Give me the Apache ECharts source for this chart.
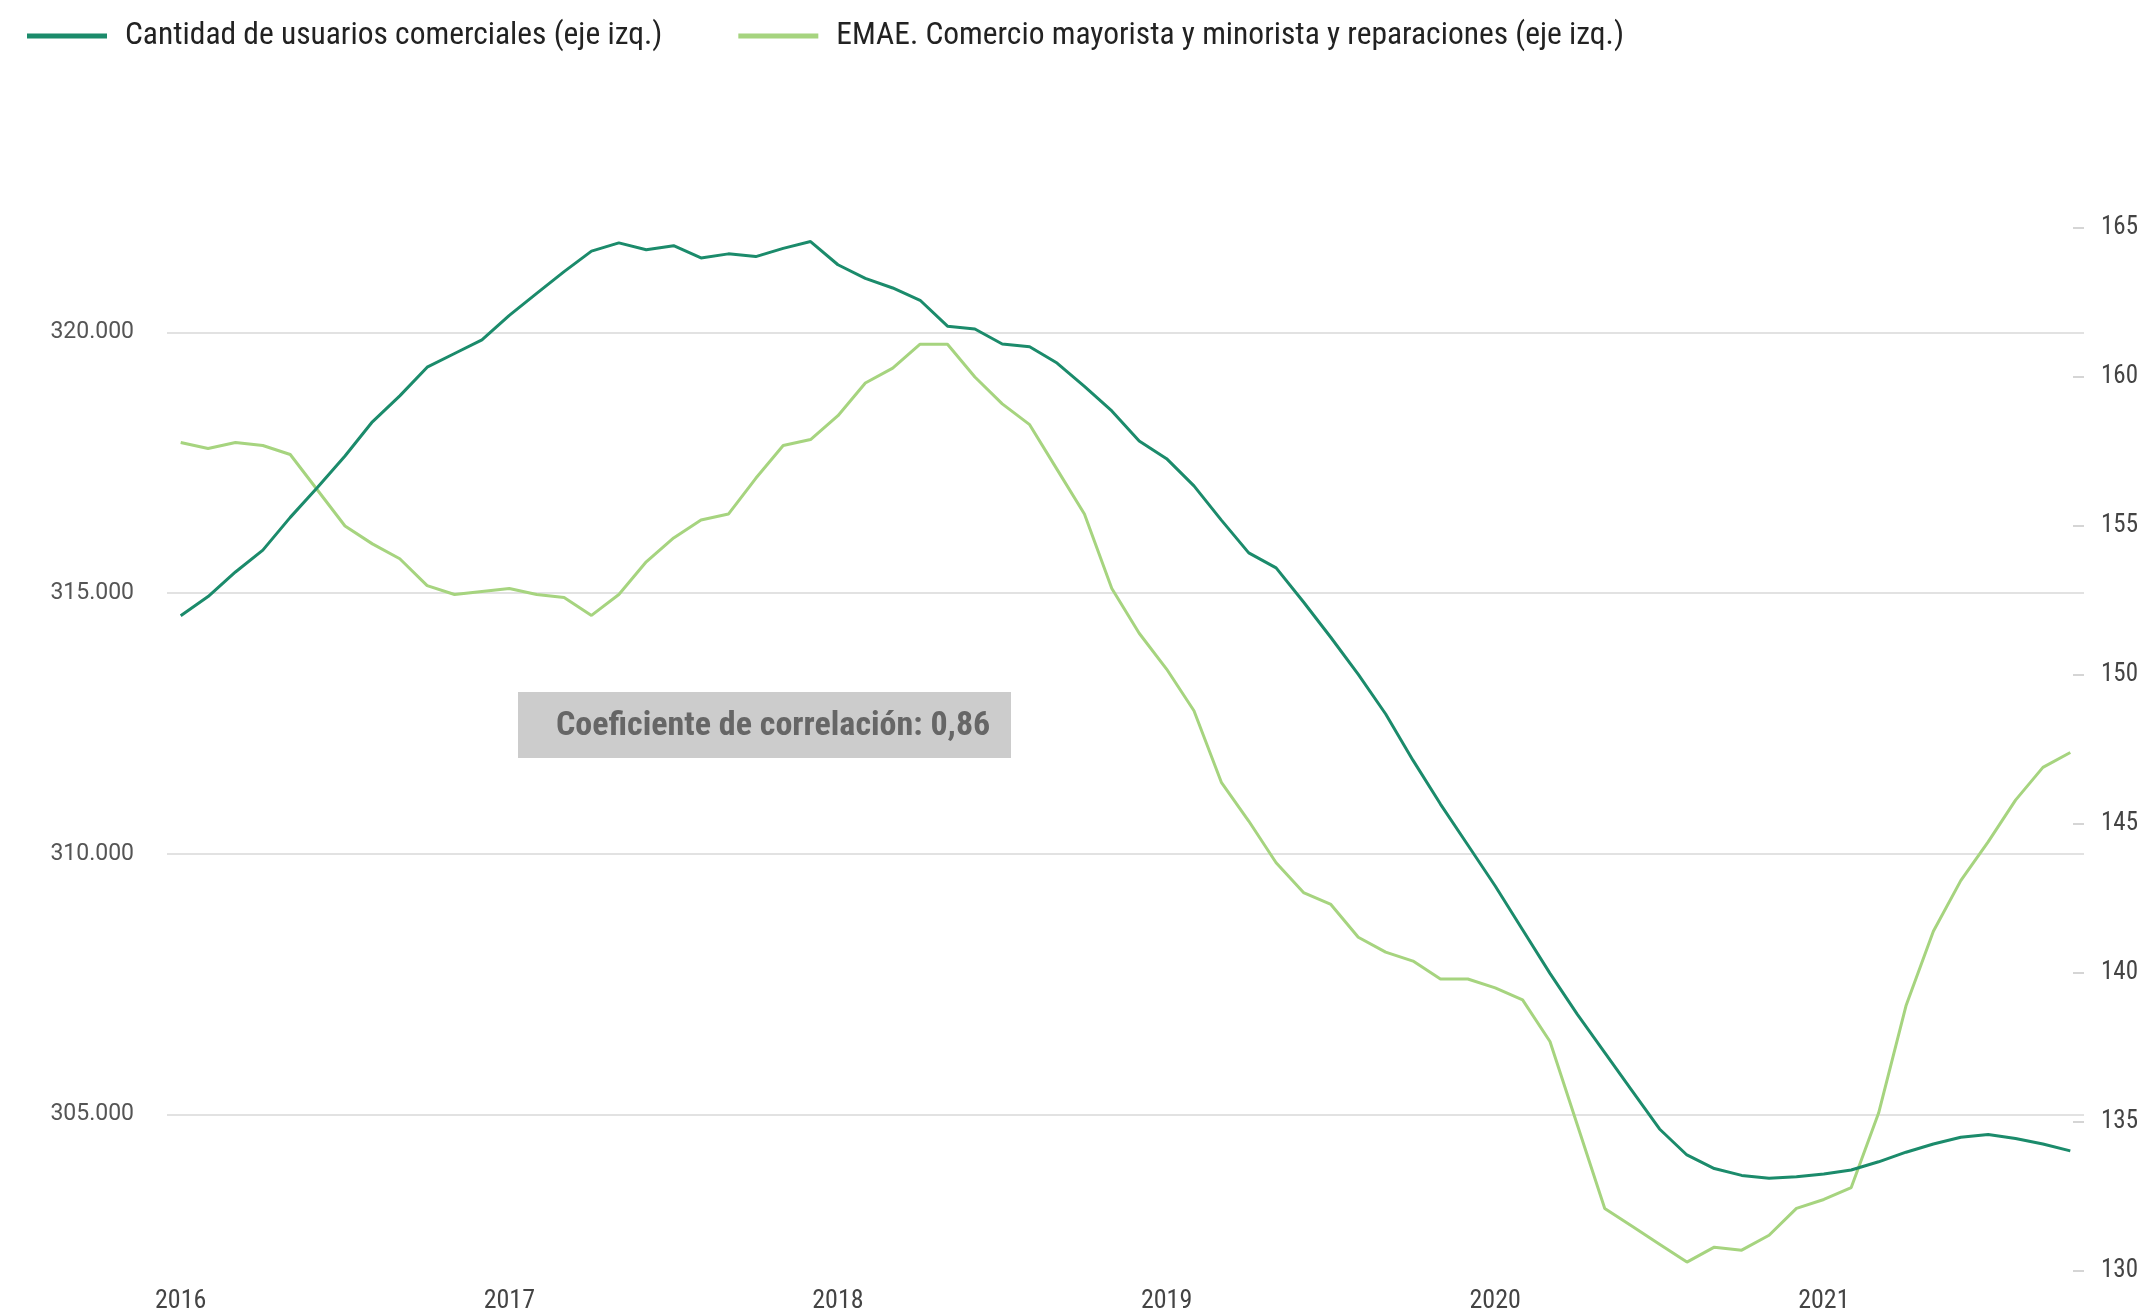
<!DOCTYPE html>
<html><head><meta charset="utf-8">
<script src="https://cdn.jsdelivr.net/npm/echarts@6/dist/echarts.min.js"></script>
<style>html,body{margin:0;padding:0;background:#fff}#c{width:2153px;height:1314px}</style>
</head><body><div id="c"></div>
<script>
const years = ['2016','2017','2018','2019','2020','2021'];
const monthCodes = ['01','02','03','04','05','06','07','08','09','10','11','12'];
const categories = [];
years.forEach(y => monthCodes.forEach(m => categories.push(y + '-' + m)));
categories.length = 70; // Jan 2016 .. Oct 2021

const usuarios = [
  314566,314933,315404,315823,316451,317027,317629,318284,318781,319331,319593,319855,
  320326,320745,321164,321556,321714,321583,321661,321426,321504,321452,321609,321740,
  321295,321033,320850,320614,320117,320064,319776,319724,319410,318965,318493,317917,
  317577,317054,316399,315771,315483,314828,314148,313441,312681,311791,310954,310168,
  309383,308545,307707,306922,306189,305456,304723,304225,303964,303833,303780,303806,
  303859,303937,304094,304278,304435,304566,304618,304539,304435,304304
];
const emae = [
  157.8,157.6,157.8,157.7,157.4,156.2,155.0,154.4,153.9,153.0,152.7,152.8,
  152.9,152.7,152.6,152.0,152.7,153.8,154.6,155.2,155.4,156.6,157.7,157.9,
  158.7,159.8,160.3,161.1,161.1,160.0,159.1,158.4,156.9,155.4,152.9,151.4,
  150.2,148.8,146.4,145.1,143.7,142.7,142.3,141.2,140.7,140.4,139.8,139.8,
  139.5,139.1,137.7,134.9,132.1,131.5,130.9,130.3,130.8,130.7,131.2,132.1,
  132.4,132.8,135.3,138.9,141.4,143.1,144.4,145.8,146.9,147.4
];
const leftTicks = [305000, 310000, 315000, 320000];
const seriesNames = ['Cantidad de usuarios comerciales (eje izq.)', 'EMAE. Comercio mayorista y minorista y reparaciones (eje izq.)'];
const annotationText = 'Coeficiente de correlación: 0,86';

const condensed = '"Roboto Condensed", "Liberation Sans Narrow", "DejaVu Sans Condensed", sans-serif';
const DARK = '#1b8b6b', LIGHT = '#a6d47f';

const chart = echarts.init(document.getElementById('c'));
chart.setOption({
  animation: false,
  backgroundColor: '#fff',
  legend: {
    left: 27, top: 20, padding: 0,
    itemWidth: 80, itemHeight: 5, itemGap: 76,
    icon: 'rect',
    textStyle: { fontFamily: condensed, fontSize: 31.5, color: '#222', padding: [0, 0, 0, 13] },
    data: seriesNames
  },
  grid: { left: 167, right: 69, top: 228, bottom: 37, containLabel: false },
  xAxis: {
    type: 'category', data: categories, boundaryGap: true,
    axisLine: { show: false }, axisTick: { show: false },
    axisLabel: {
      interval: (i) => i % 12 === 0,
      formatter: (v) => v.slice(0, 4),
      fontFamily: condensed, fontSize: 26, color: '#444', margin: 17
    },
    splitLine: { show: false }
  },
  yAxis: [
    {
      type: 'value', min: 302000, max: 322000, position: 'left',
      axisLine: { show: false },
      axisTick: { show: false, customValues: leftTicks },
      axisLabel: {
        customValues: leftTicks,
        formatter: (v) => String(v).replace(/\B(?=(\d{3})+(?!\d))/g, '.'),
        fontFamily: 'Roboto', fontSize: 23, color: '#555', margin: 33
      },
      splitLine: { show: true, lineStyle: { color: '#e2e2e2', width: 2 } }
    },
    {
      type: 'value', min: 130, max: 165, interval: 5, position: 'right',
      axisLine: { show: false },
      axisTick: { show: true, inside: true, length: 11, lineStyle: { color: '#d5d5d5', width: 2 } },
      axisLabel: { fontFamily: condensed, fontSize: 25, color: '#444', margin: 17 },
      splitLine: { show: false }
    }
  ],
  series: [
    { name: seriesNames[0], type: 'line', yAxisIndex: 0, data: usuarios, symbol: 'none',
      lineStyle: { color: DARK, width: 3 }, itemStyle: { color: DARK }, z: 3 },
    { name: seriesNames[1], type: 'line', yAxisIndex: 1, data: emae, symbol: 'none',
      lineStyle: { color: LIGHT, width: 3 }, itemStyle: { color: LIGHT }, z: 2 }
  ],
  graphic: [{
    type: 'group', left: 518, top: 692,
    children: [
      { type: 'rect', shape: { x: 0, y: 0, width: 493, height: 66 }, style: { fill: '#cccccc' } },
      { type: 'text', x: 38, y: 34, style: { text: annotationText, fontFamily: condensed, fontWeight: 'bold', fontSize: 34, fill: '#666', verticalAlign: 'middle', align: 'left' } }
    ]
  }]
});
</script></body></html>
